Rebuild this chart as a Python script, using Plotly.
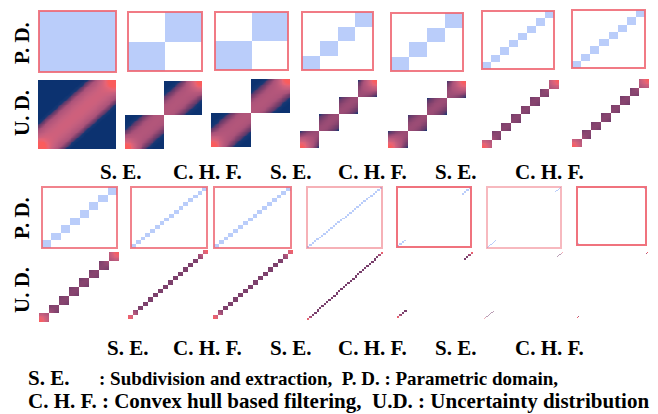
import numpy as np
import plotly.graph_objects as go

# ---------------- data ----------------
top_blocks = [1, 2, 2, 4, 4, 8, 8]
bottom_blocks = [8, 16, 16, 32, 32, 64, 64]
top_kept = [None, None, None, None, None, None, None]          # None = every diagonal block kept
bottom_kept = [None, None, None, None,
               [0, 1, 2, 3, 28, 29, 30, 31],
               [0, 1, 2, 3, 4, 5, 6, 7, 59, 60, 61, 62, 63],
               [0, 1, 62, 63]]
step_labels = ["S. E.", "C. H. F.", "S. E.", "C. H. F.", "S. E.", "C. H. F."]
row_labels = ["P. D.", "U. D."]
legend_abbr = "S. E."
legend_line1 = ": Subdivision and extraction,\u00a0 P. D. : Parametric domain,"
legend_line2 = "C. H. F. : Convex hull based filtering,\u00a0 U.D. : Uncertainty distribution"

# ---------------- layout (pixels) ----------------
W, H = 658, 414
top_pd = [(39, 116, 11, 72), (128, 202, 12, 71), (215, 288, 12, 70), (302, 373, 12, 70),
          (391, 463, 13, 71), (482, 554, 11, 69), (572, 645, 10, 68)]
top_ud = [(38, 116, 80, 149), (125, 202, 81, 149), (211, 290, 79, 147), (300, 377, 80, 148),
          (388, 466, 81, 148), (482, 559, 80, 148), (572, 649, 79, 147)]
bot_pd = [(42, 117, 187, 248), (131, 207, 187, 248), (214, 291, 187, 248), (307, 382, 187, 248),
          (397, 471, 187, 247), (487, 561, 187, 248), (577, 646, 187, 245)]
bot_ud = [(39, 119, 252, 322), (128, 208, 250, 319), (213, 293, 250, 319), (307, 383, 252, 320),
          (397, 473, 252, 318), (484, 563, 252, 319), (577, 648, 252, 318)]
top_label_x = [120, 207, 290, 372, 455, 549]
bot_label_x = [127, 207, 290, 372, 455, 549]
border_alpha_top = [0.85] * 7
border_alpha_bot = [0.8, 0.8, 0.8, 0.5, 0.9, 0.45, 0.9]
ud_opacity_top = [1] * 7
ud_opacity_bot = [1, 1, 1, 1, 1, 0.5, 1]

PD_BLUE = "rgb(186,205,250)"
UD_SCALE = [[0.0, "rgb(250,92,92)"], [0.15, "rgb(230,100,118)"], [0.35, "rgb(198,95,126)"],
            [0.55, "rgb(170,82,121)"], [0.66, "rgb(124,64,108)"], [0.74, "rgb(92,58,108)"],
            [0.82, "rgb(22,56,116)"], [1.0, "rgb(12,50,112)"]]
FONT = "Liberation Serif, Times New Roman, serif"
FS = 21

fig = go.Figure()
layout = dict(width=W, height=H, margin=dict(l=0, r=0, t=0, b=0),
              paper_bgcolor="white", plot_bgcolor="rgba(0,0,0,0)", showlegend=False)
shapes, annotations = [], []
axis_id = [0]


def new_axes(box, rng):
    axis_id[0] += 1
    k = axis_id[0]
    x0, x1, y0, y1 = box
    sx = "" if k == 1 else str(k)
    layout["xaxis" + sx] = dict(domain=[x0 / W, x1 / W], range=rng, visible=False,
                                anchor="y" + sx, fixedrange=True)
    layout["yaxis" + sx] = dict(domain=[1 - y1 / H, 1 - y0 / H], range=rng, visible=False,
                                anchor="x" + sx, fixedrange=True)
    return "x" + sx, "y" + sx


def kept_set(n, kept):
    return set(range(n)) if kept is None else set(kept)


def add_pd(box, n, kept, alpha):
    xa, ya = new_axes(box, [0, n])
    ks = kept_set(n, kept)
    z = np.full((n, n), np.nan)
    for i in ks:
        z[i, i] = 1.0
    c = np.arange(n) + 0.5
    fig.add_trace(go.Heatmap(x=c, y=c, z=z, xaxis=xa, yaxis=ya, zmin=0, zmax=1,
                             colorscale=[[0, PD_BLUE], [1, PD_BLUE]], showscale=False,
                             hoverinfo="skip"))
    shapes.append(dict(type="rect", xref=xa + " domain", yref=ya + " domain",
                       x0=0, x1=1, y0=0, y1=1,
                       line=dict(color=f"rgba(238,100,112,{alpha})", width=2)))


def add_ud(box, n, kept, opacity):
    xa, ya = new_axes(box, [0, 1])
    ks = kept_set(n, kept)
    R = n * max(1, int(np.ceil(84 / n)))
    c = (np.arange(R) + 0.5) / R
    X, Y = np.meshgrid(c, c)
    bx = np.floor(X * n).astype(int)
    by = np.floor(Y * n).astype(int)
    mask = (bx == by) & np.isin(bx, list(ks))
    u = X * n - bx
    v = Y * n - by
    d = np.abs(u - v)
    base = 0.68 - 0.38 / n
    k2 = 4.0 / n ** 2
    sig = min(0.13, 1.6 / n)
    r = np.minimum(np.hypot(X, Y), np.hypot(1 - X, 1 - Y))
    z = base + k2 * d ** 2 - 0.62 * np.exp(-(r / sig) ** 2)
    z = np.clip(z, 0, 1)
    z[~mask] = np.nan
    fig.add_trace(go.Heatmap(x=c, y=c, z=z, xaxis=xa, yaxis=ya, zmin=0, zmax=1,
                             colorscale=UD_SCALE, showscale=False, opacity=opacity,
                             hoverinfo="skip"))


for i in range(7):
    add_pd(top_pd[i], top_blocks[i], top_kept[i], border_alpha_top[i])
    add_ud(top_ud[i], top_blocks[i], top_kept[i], ud_opacity_top[i])
for i in range(7):
    add_pd(bot_pd[i], bottom_blocks[i], bottom_kept[i], border_alpha_bot[i])
    add_ud(bot_ud[i], bottom_blocks[i], bottom_kept[i], ud_opacity_bot[i])


def text(x, y, s, anchor="center", angle=0, size=FS):
    annotations.append(dict(x=x / W, y=1 - y / H, xref="paper", yref="paper", text="<b>" + s + "</b>",
                            showarrow=False, xanchor=anchor, yanchor="middle", textangle=angle,
                            font=dict(family=FONT, size=size, color="black")))


for x, s in zip(top_label_x, step_labels):
    text(x, 172, s)
for x, s in zip(bot_label_x, step_labels):
    text(x, 348, s)
for yc, s in zip([43, 113], row_labels):
    text(22, yc, s, angle=-90)
for yc, s in zip([218, 290], row_labels):
    text(22, yc, s, angle=-90)
text(26, 378, legend_abbr, anchor="left")
text(97, 378, legend_line1, anchor="left", size=19)
text(26, 401, legend_line2, anchor="left")

layout["shapes"] = shapes
layout["annotations"] = annotations
fig.update_layout(**layout)
fig.write_html("out.html", config={"displayModeBar": False},
               post_script="document.body.style.margin='0';document.body.style.overflow='hidden';")
